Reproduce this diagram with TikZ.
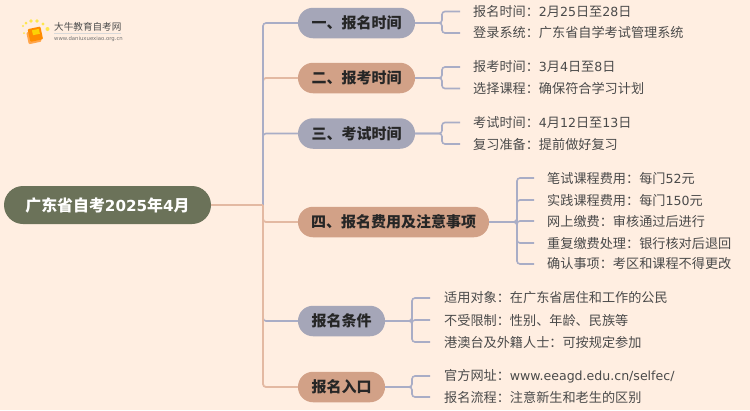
\documentclass[tikz,border=0pt]{standalone}
\usepackage{fontspec}
\setmainfont{Noto Sans CJK SC}
\newfontfamily\latn[Scale=0.955]{DejaVu Sans}
\newcommand{\lt}[1]{{\latn #1}}
\definecolor{bgc}{HTML}{FFEEE1}
\definecolor{rootc}{HTML}{6B7259}
\definecolor{bluec}{HTML}{A5A6B8}
\definecolor{tanc}{HTML}{D2A187}
\definecolor{lineb}{HTML}{A9ADC6}
\definecolor{linet}{HTML}{E3B9A2}
\definecolor{leafc}{HTML}{4A4A4A}
\tikzset{
 x=1pt,y=-1pt,
 rootn/.style={rounded corners=19pt,fill=rootc,text=white,minimum width=207pt,minimum height=38pt,font=\fontsize{15.9}{16}\selectfont\bfseries,inner sep=0pt},
 bran/.style={rounded corners=15pt,minimum height=30.5pt,font=\fontsize{15}{15}\selectfont\bfseries,text=black!85,inner sep=0pt},
 bb/.style={bran,fill=bluec},
 bt/.style={bran,fill=tanc},
 leaf/.style={anchor=west,inner sep=0pt,text=leafc,font=\fontsize{13.15}{14}\selectfont},
 lb/.style={draw=lineb,line width=1.6pt,rounded corners=3pt},
 lt/.style={draw=linet,line width=1.8pt,rounded corners=3pt},
}
\begin{document}
\begin{tikzpicture}
\useasboundingbox[fill=bgc] (0,0) rectangle (750,410);
% logo
\foreach \a/\b/\r in {24/33/1,23/26/1.2,26/23/1.5,31/21/1.8,37/21/1.8,43/24/1.6,47.5/29/2}{\fill[yellow!80!orange!70] (\a,\b) circle (\r);}
\fill[orange!70!white,rotate around={12:(34,35)},rounded corners=1pt] (27,31) rectangle (40,43);
\fill[orange!90!yellow,rotate around={12:(34,35)},rounded corners=1pt] (29,28) rectangle (42,41);
\fill[yellow!70!orange,rotate around={12:(34,35)}] (33,30) rectangle (40,35);
\node[inner sep=0pt,anchor=west,text=black!70,font=\fontsize{9.6}{10}\selectfont] (logot) at (54,27) {大牛教育自考网};
\node[inner sep=0pt,anchor=west,text=black!55,font=\fontsize{5.6}{6}\selectfont\latn] (logou) at (54,39) {www.daniuxuexiao.org.cn};
\draw[black!15,line width=.5pt] (54,33.5) -- (121,33.5);
% root
\node[rootn] (root) at (107.5,205) {广东省自考\lt{2025}年\lt{4}月};
% branches
\node[bb,minimum width=117pt] (b1) at (356.5,23) {一、报名时间};
\node[bt,minimum width=117pt] (b2) at (356.5,78) {二、报考时间};
\node[bb,minimum width=117pt] (b3) at (356.5,133.5) {三、考试时间};
\node[bt,minimum width=191pt] (b4) at (393.5,222) {四、报名费用及注意事项};
\node[bb,minimum width=87pt] (b5) at (341.5,321) {报名条件};
\node[bt,minimum width=87pt] (b6) at (341.5,387) {报名入口};
% trunk
\coordinate (tr) at (263,205);
\draw[lt] (tr) |- (b2.west);
\draw[lb] (tr) |- (b1.west);
\draw[lb] (tr) |- (b3.west);
\draw[lb] (tr) |- (b5.west);
\draw[lt] (tr) |- (b4.west);
\draw[lt] (tr) |- (b6.west);
\draw[lt] (root.east) -- (tr);
% leaves
\node[leaf] (a1) at (473,11.5) {报名时间：\lt{2}月\lt{25}日至\lt{28}日};
\node[leaf] (a2) at (473,33) {登录系统：广东省自学考试管理系统};
\node[leaf] (c1) at (473,67) {报考时间：\lt{3}月\lt{4}日至\lt{8}日};
\node[leaf] (c2) at (473,88.5) {选择课程：确保符合学习计划};
\node[leaf] (d1) at (473,122.5) {考试时间：\lt{4}月\lt{12}日至\lt{13}日};
\node[leaf] (d2) at (473,144) {复习准备：提前做好复习};
\node[leaf] (e1) at (547,178) {笔试课程费用：每门\lt{52}元};
\node[leaf] (e2) at (547,200) {实践课程费用：每门\lt{150}元};
\node[leaf] (e3) at (547,221) {网上缴费：审核通过后进行};
\node[leaf] (e4) at (547,243) {重复缴费处理：银行核对后退回};
\node[leaf] (e5) at (547,264) {确认事项：考区和课程不得更改};
\node[leaf] (f1) at (444,298) {适用对象：在广东省居住和工作的公民};
\node[leaf] (f2) at (444,320) {不受限制：性别、年龄、民族等};
\node[leaf] (f3) at (444,342) {港澳台及外籍人士：可按规定参加};
\node[leaf] (g1) at (444,376) {官方网址：\lt{www.eeagd.edu.cn/selfec/}};
\node[leaf] (g2) at (444,397) {报名流程：注意新生和老生的区别};
% brackets
\foreach \bn/\jx/\lx/\ls in {b1/442/460/{a1,a2},b2/442/460/{c1,c2},b3/442/460/{d1,d2},b4/517/534/{e1,e2,e3,e4,e5},b5/412/430/{f1,f2,f3},b6/412/430/{g1,g2}}{
  \coordinate (j) at (\jx,0);
  \foreach \n in \ls {
    \coordinate (e) at (\n.west);
    \draw[lb] (\bn.east) -- (j |- \bn.east) |- (\lx,0 |- e);
  }
}
\end{tikzpicture}
\end{document}
